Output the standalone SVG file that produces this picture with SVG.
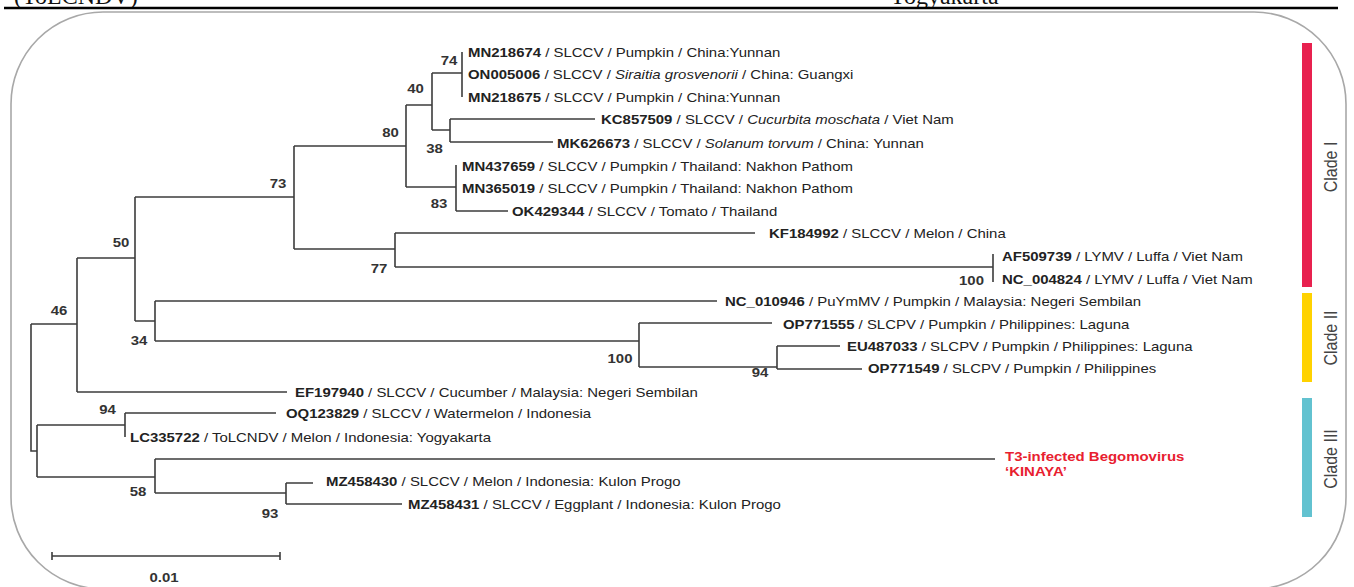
<svg xmlns="http://www.w3.org/2000/svg" width="1354" height="587" viewBox="0 0 1354 587">
<style>
.lbl{font-family:"Liberation Sans",Arial,sans-serif;font-size:13px;fill:#222}
.b{font-weight:bold}
.i{font-style:italic}
.bs{font-family:"Liberation Sans",Arial,sans-serif;font-size:13px;font-weight:bold;fill:#333;text-anchor:middle}
.tree{fill:none;stroke:#3c3c3c;stroke-width:1.6}
.clade{font-family:"Liberation Sans",Arial,sans-serif;font-size:16px;fill:#444;text-anchor:middle}
.hdr{font-family:"Liberation Serif","Times New Roman",serif;font-size:24px;fill:#111}
.red{font-family:"Liberation Sans",Arial,sans-serif;font-size:13px;font-weight:bold;fill:#E8202F}
</style>
<rect width="1354" height="587" fill="#fff"/>
<g id="header">
<text class="hdr" x="14" y="3.5">(ToLCNDV)</text>
<text class="hdr" x="889" y="3.5">Yogyakarta</text>
<line x1="4" y1="8" x2="1338" y2="8" stroke="#000" stroke-width="2.4"/>
</g>
<rect id="frame" x="11" y="12" width="1335" height="577" rx="92" ry="92" fill="none" stroke="#a8a8a8" stroke-width="1.6"/>
<g id="connectors" class="tree">
<path d="M31,324 V451 H37 M31,324 H77"/>
<path d="M77,258 V392 M77,392 H287 M77,258 H135"/>
<path d="M135,197 V321 M135,197 H294"/>
<path d="M294,146 V249 M294,146 H406"/>
<path d="M406,105 V187 M406,105 H432"/>
<path d="M432,73 V130 M432,73 H462 M462,52 V97"/>
<path d="M432,130 H450 M450,119 V142 M450,119 H595 M450,142 H553"/>
<path d="M406,187 H456 M456,165 V211 M456,211 H508"/>
<path d="M294,249 H395 M395,233 V267 M395,233 H755 M395,267 H993 M993,254 V282"/>
<path d="M135,321 H155 M155,301 V341 M155,301 H717 M155,341 H639"/>
<path d="M639,323 V367 M639,323 H772 M639,367 H777 M777,346 V369 M777,346 H840 M777,369 H862"/>
<path d="M37,425 V477 M37,425 H125 M125,413 V437 M125,413 H276"/>
<path d="M37,477 H155 M155,459 V493 M155,459 H995 M155,493 H286 M286,483 V504 M286,483 H313 M286,504 H402"/>
</g>
<g id="leaves">
<g id="MN218674"><text class="lbl" transform="translate(468,57) scale(1.15,1)"><tspan class="b">MN218674</tspan> / SLCCV / Pumpkin / China:Yunnan</text></g>
<g id="ON005006"><text class="lbl" transform="translate(468,79) scale(1.15,1)"><tspan class="b">ON005006</tspan> / SLCCV / <tspan class="i">Siraitia grosvenorii</tspan> / China: Guangxi</text></g>
<g id="MN218675"><text class="lbl" transform="translate(468,102) scale(1.15,1)"><tspan class="b">MN218675</tspan> / SLCCV / Pumpkin / China:Yunnan</text></g>
<g id="KC857509"><text class="lbl" transform="translate(601,124) scale(1.15,1)"><tspan class="b">KC857509</tspan> / SLCCV / <tspan class="i">Cucurbita moschata</tspan> / Viet Nam</text></g>
<g id="MK626673"><text class="lbl" transform="translate(557,147.5) scale(1.15,1)"><tspan class="b">MK626673</tspan> / SLCCV / <tspan class="i">Solanum torvum</tspan> / China: Yunnan</text></g>
<g id="MN437659"><text class="lbl" transform="translate(462,170.5) scale(1.15,1)"><tspan class="b">MN437659</tspan> / SLCCV / Pumpkin / Thailand: Nakhon Pathom</text></g>
<g id="MN365019"><text class="lbl" transform="translate(462,192.5) scale(1.15,1)"><tspan class="b">MN365019</tspan> / SLCCV / Pumpkin / Thailand: Nakhon Pathom</text></g>
<g id="OK429344"><text class="lbl" transform="translate(512,216) scale(1.15,1)"><tspan class="b">OK429344</tspan> / SLCCV / Tomato / Thailand</text></g>
<g id="KF184992"><text class="lbl" transform="translate(769,238) scale(1.15,1)"><tspan class="b">KF184992</tspan> / SLCCV / Melon / China</text></g>
<g id="AF509739"><text class="lbl" transform="translate(1002,260.5) scale(1.15,1)"><tspan class="b">AF509739</tspan> / LYMV / Luffa / Viet Nam</text></g>
<g id="NC_004824"><text class="lbl" transform="translate(1002,283.5) scale(1.15,1)"><tspan class="b">NC_004824</tspan> / LYMV / Luffa / Viet Nam</text></g>
<g id="NC_010946"><text class="lbl" transform="translate(725,306) scale(1.15,1)"><tspan class="b">NC_010946</tspan> / PuYmMV / Pumpkin / Malaysia: Negeri Sembilan</text></g>
<g id="OP771555"><text class="lbl" transform="translate(783,328.5) scale(1.15,1)"><tspan class="b">OP771555</tspan> / SLCPV / Pumpkin / Philippines: Laguna</text></g>
<g id="EU487033"><text class="lbl" transform="translate(847,351) scale(1.15,1)"><tspan class="b">EU487033</tspan> / SLCPV / Pumpkin / Philippines: Laguna</text></g>
<g id="OP771549"><text class="lbl" transform="translate(868,373) scale(1.15,1)"><tspan class="b">OP771549</tspan> / SLCPV / Pumpkin / Philippines</text></g>
<g id="EF197940"><text class="lbl" transform="translate(295,397) scale(1.15,1)"><tspan class="b">EF197940</tspan> / SLCCV / Cucumber / Malaysia: Negeri Sembilan</text></g>
<g id="OQ123829"><text class="lbl" transform="translate(286,418) scale(1.15,1)"><tspan class="b">OQ123829</tspan> / SLCCV / Watermelon / Indonesia</text></g>
<g id="LC335722"><text class="lbl" transform="translate(130,442) scale(1.15,1)"><tspan class="b">LC335722</tspan> / ToLCNDV / Melon / Indonesia: Yogyakarta</text></g>
<g id="KINAYA"><text class="red" transform="translate(1005,461) scale(1.15,1)">T3-infected Begomovirus</text><text class="red" transform="translate(1005,475.5) scale(1.15,1)">‘KINAYA’</text></g>
<g id="MZ458430"><text class="lbl" transform="translate(326,486) scale(1.15,1)"><tspan class="b">MZ458430</tspan> / SLCCV / Melon / Indonesia: Kulon Progo</text></g>
<g id="MZ458431"><text class="lbl" transform="translate(408,509) scale(1.15,1)"><tspan class="b">MZ458431</tspan> / SLCCV / Eggplant / Indonesia: Kulon Progo</text></g>
</g>
<g id="bootstrap">
<text class="bs" transform="translate(449,65) scale(1.15,1)">74</text>
<text class="bs" transform="translate(415.5,93) scale(1.15,1)">40</text>
<text class="bs" transform="translate(390.5,136.5) scale(1.15,1)">80</text>
<text class="bs" transform="translate(434.5,153) scale(1.15,1)">38</text>
<text class="bs" transform="translate(439,208) scale(1.15,1)">83</text>
<text class="bs" transform="translate(278,188) scale(1.15,1)">73</text>
<text class="bs" transform="translate(379,272.5) scale(1.15,1)">77</text>
<text class="bs" transform="translate(971.5,285) scale(1.15,1)">100</text>
<text class="bs" transform="translate(121,247) scale(1.15,1)">50</text>
<text class="bs" transform="translate(139,345) scale(1.15,1)">34</text>
<text class="bs" transform="translate(620,362.5) scale(1.15,1)">100</text>
<text class="bs" transform="translate(760,377) scale(1.15,1)">94</text>
<text class="bs" transform="translate(59,315) scale(1.15,1)">46</text>
<text class="bs" transform="translate(107.5,414) scale(1.15,1)">94</text>
<text class="bs" transform="translate(138,496) scale(1.15,1)">58</text>
<text class="bs" transform="translate(270,517.5) scale(1.15,1)">93</text>
</g>
<g id="scalebar">
<path class="tree" d="M52,556 H280 M52,552 V560 M280,552 V560"/>
<text class="bs" transform="translate(164,581.5) scale(1.15,1)">0.01</text>
</g>
<g id="clade1"><rect x="1302" y="43" width="10" height="244" fill="#E8214F"/><text class="clade" transform="translate(1337,167) rotate(-90) scale(1,1.15)">Clade I</text></g>
<g id="clade2"><rect x="1302" y="293" width="10" height="89" fill="#FFD200"/><text class="clade" transform="translate(1337,338) rotate(-90) scale(1,1.15)">Clade II</text></g>
<g id="clade3"><rect x="1302" y="398" width="10" height="119" fill="#62C2D0"/><text class="clade" transform="translate(1337,459) rotate(-90) scale(1,1.15)">Clade III</text></g>
</svg>
